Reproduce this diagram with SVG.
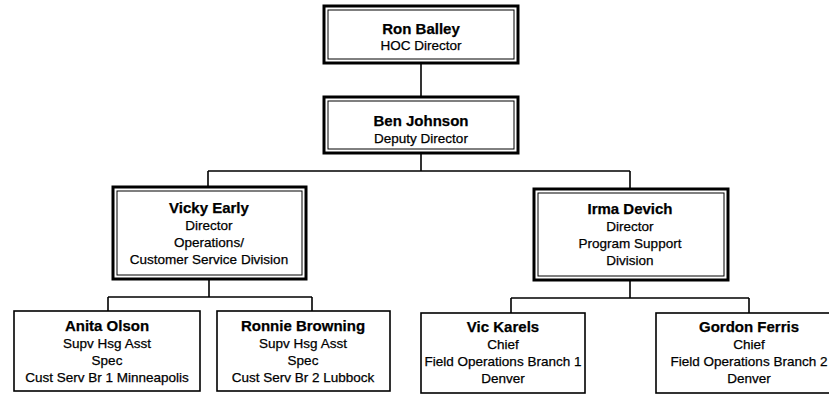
<svg xmlns="http://www.w3.org/2000/svg" width="829" height="396" viewBox="0 0 829 396">
  <style>
    .bg { fill: #ffffff; }
    .box { fill: #ffffff; stroke: #000000; stroke-width: 1.6; }
    .outer { fill: #ffffff; stroke: #000000; stroke-width: 3; }
    .inner { fill: none; stroke: #000000; stroke-width: 1; }
    .wire { fill: none; stroke: #000000; stroke-width: 1.6; }
    text { font-family: "Liberation Sans", Arial, sans-serif; text-anchor: middle; fill: #000000; stroke: #000000; stroke-width: 0.25; }
    .name { font-size: 15px; font-weight: bold; }
    .role { font-size: 13.5px; }
  </style>
  <rect class="bg" x="0" y="0" width="829" height="396"/>

  <g id="connectors">
    <path class="wire" d="M421 64 V97"/>
    <path class="wire" d="M421 153 V171 M208 171 H630 M208 171 V187 M630 171 V189"/>
    <path class="wire" d="M209 279 V297 M108 297 H312 M108 297 V311 M312 297 V311"/>
    <path class="wire" d="M630 280 V298 M511 298 H749 M511 298 V313 M749 298 V313"/>
  </g>

  <g id="ron-bailey">
    <rect class="outer" x="324" y="6" width="194" height="57"/>
    <rect class="inner" x="328" y="10" width="186" height="49"/>
    <text class="name" x="421" y="34">Ron Balley</text>
    <text class="role" x="421" y="50">HOC Director</text>
  </g>

  <g id="ben-johnson">
    <rect class="outer" x="324" y="97" width="194" height="56"/>
    <rect class="inner" x="328" y="101" width="186" height="48"/>
    <text class="name" x="421" y="126">Ben Johnson</text>
    <text class="role" x="421" y="143">Deputy Director</text>
  </g>

  <g id="vicky-early">
    <rect class="outer" x="113" y="187" width="193" height="92"/>
    <rect class="inner" x="117" y="191" width="185" height="84"/>
    <text class="name" x="209" y="213">Vicky Early</text>
    <text class="role" x="209" y="230">Director</text>
    <text class="role" x="209" y="247">Operations/</text>
    <text class="role" x="209" y="264">Customer Service Division</text>
  </g>

  <g id="irma-devich">
    <rect class="outer" x="534" y="189" width="194" height="91"/>
    <rect class="inner" x="538" y="193" width="186" height="83"/>
    <text class="name" x="630" y="214">Irma Devich</text>
    <text class="role" x="630" y="231">Director</text>
    <text class="role" x="630" y="248">Program Support</text>
    <text class="role" x="630" y="265">Division</text>
  </g>

  <g id="anita-olson">
    <rect class="box" x="14" y="311" width="186" height="80"/>
    <text class="name" x="107" y="331">Anita Olson</text>
    <text class="role" x="107" y="348">Supv Hsg Asst</text>
    <text class="role" x="107" y="365">Spec</text>
    <text class="role" x="107" y="382">Cust Serv Br 1 Minneapolis</text>
  </g>

  <g id="ronnie-browning">
    <rect class="box" x="217" y="311" width="173" height="80"/>
    <text class="name" x="303" y="331">Ronnie Browning</text>
    <text class="role" x="303" y="348">Supv Hsg Asst</text>
    <text class="role" x="303" y="365">Spec</text>
    <text class="role" x="303" y="382">Cust Serv Br 2 Lubbock</text>
  </g>

  <g id="vic-karels">
    <rect class="box" x="421" y="313" width="164" height="80"/>
    <text class="name" x="503" y="332">Vic Karels</text>
    <text class="role" x="503" y="349">Chief</text>
    <text class="role" x="503" y="366">Field Operations Branch 1</text>
    <text class="role" x="503" y="383">Denver</text>
  </g>

  <g id="gordon-ferris">
    <rect class="box" x="656" y="313" width="190" height="80"/>
    <text class="name" x="749" y="332">Gordon Ferris</text>
    <text class="role" x="749" y="349">Chief</text>
    <text class="role" x="749" y="366">Field Operations Branch 2</text>
    <text class="role" x="749" y="383">Denver</text>
  </g>
</svg>
